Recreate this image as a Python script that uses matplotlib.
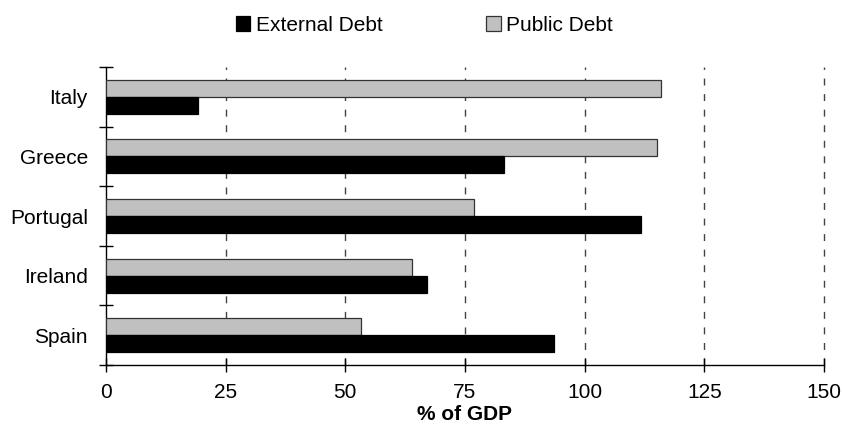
import numpy as np
import matplotlib
matplotlib.use("Agg")
import matplotlib.pyplot as plt

# data (% of GDP)
countries = ["Spain", "Ireland", "Portugal", "Greece", "Italy"]
external_debt = [93.5, 67.0, 111.7, 83.1, 19.3]
public_debt = [53.2, 64.0, 76.8, 115.2, 116.0]
x_ticks = [0, 25, 50, 75, 100, 125, 150]

plt.rcParams['font.family'] = ['Liberation Sans', 'DejaVu Sans']

fig = plt.figure(figsize=(8.42, 4.32), dpi=100)
ax = fig.add_axes([0.1259, 0.155, 0.8527, 0.69])

y = np.arange(len(countries))
h = 0.285
ax.barh(y + h / 2, public_debt, h, color='#c0c0c0', edgecolor='#333333',
        linewidth=0.9, label='Public Debt', zorder=3)
ax.barh(y - h / 2, external_debt, h, color='black', edgecolor='black',
        linewidth=0.9, label='External Debt', zorder=3)

ax.set_xlim(0, 150)
ax.set_ylim(-0.5, len(countries) - 0.5)
ax.set_xticks(x_ticks)
ax.set_xticklabels([str(v) for v in x_ticks], fontsize=15)

# category labels centred, tick marks on the boundaries
ax.set_yticks(np.arange(-0.5, len(countries), 1.0))
ax.set_yticklabels([])
ax.set_yticks(y, minor=True)
ax.set_yticklabels(countries, minor=True, fontsize=15)
ax.tick_params(axis='y', which='minor', length=0, pad=13)
ax.tick_params(axis='y', which='major', direction='inout', length=10, width=1)
ax.tick_params(axis='x', direction='inout', length=10, width=1, pad=8)

for v in x_ticks[1:]:
    ax.axvline(v, color='#444444', linewidth=1, linestyle=(0, (5, 6.2)),
               zorder=1, clip_on=False)

for s in ['top', 'right']:
    ax.spines[s].set_visible(False)
for s in ['left', 'bottom']:
    ax.spines[s].set_linewidth(1)

ax.set_xlabel('% of GDP', fontsize=15, fontweight='bold', labelpad=2)

handles, labels = ax.get_legend_handles_labels()
fig.legend(handles[::-1], labels[::-1], loc='center', bbox_to_anchor=(0.504, 0.942),
           ncol=2, frameon=False, fontsize=15, handlelength=0.7, handleheight=0.7,
           handletextpad=0.25, columnspacing=5.0)

fig.savefig('out.png', dpi=100)
